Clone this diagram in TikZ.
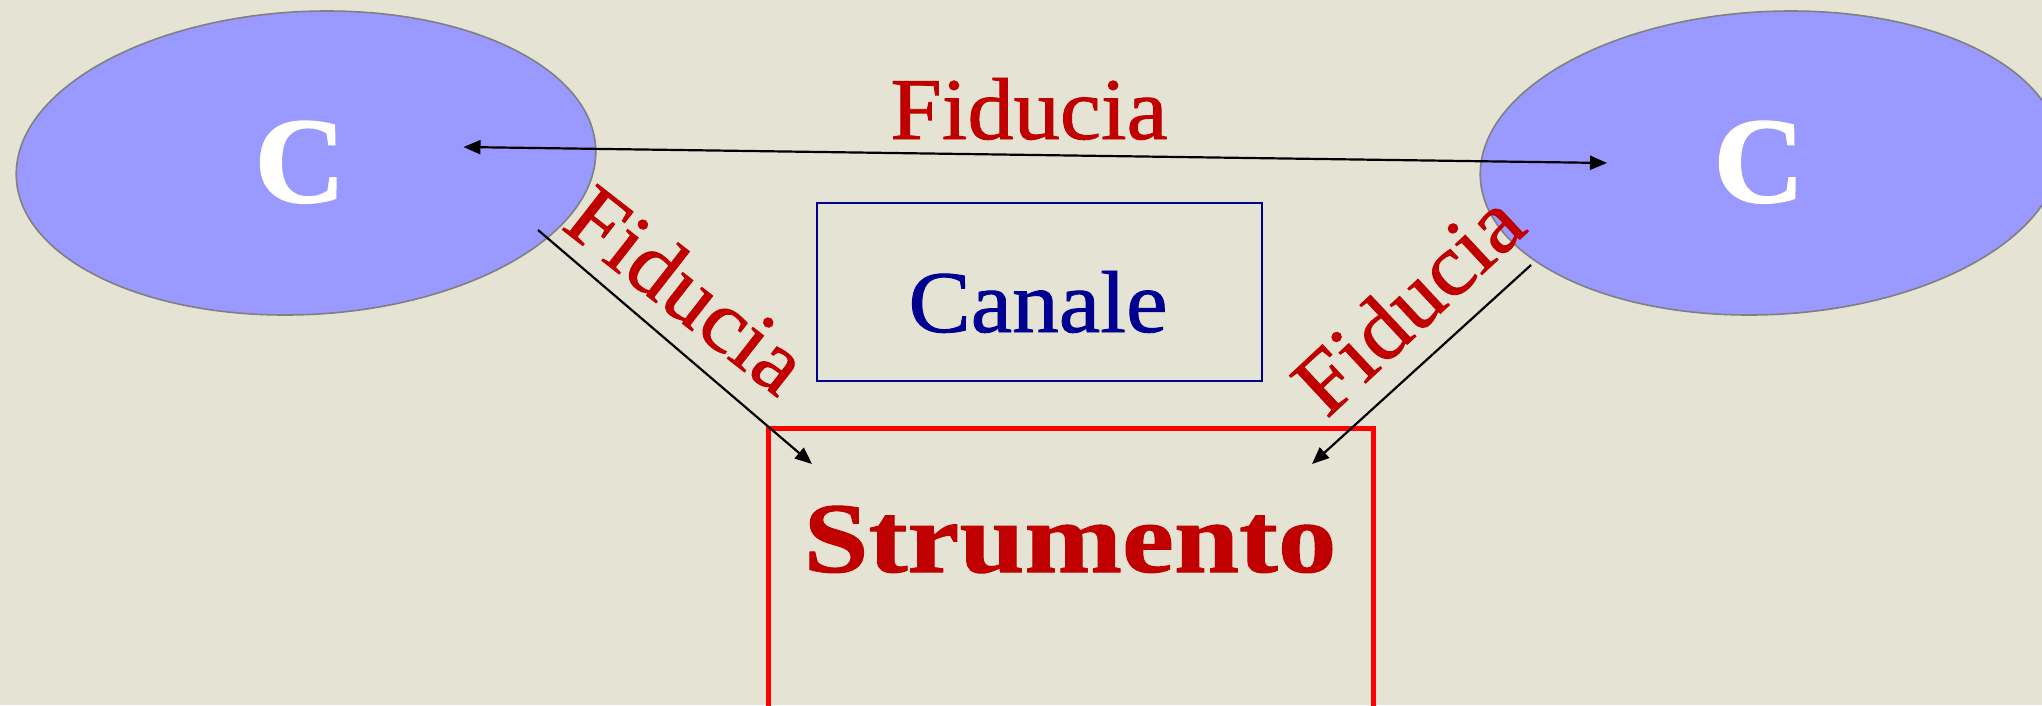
\documentclass[tikz,border=0pt]{standalone}
\usepackage{fontspec}
\setmainfont{Liberation Serif}
\newfontfamily\fidfont[FakeStretch=1.05,FakeBold=1]{Liberation Serif}
\newfontfamily\strfont[FakeStretch=1.17,BoldFeatures={FakeStretch=1.17,FakeBold=1}]{Liberation Serif}
\newfontfamily\canfont[FakeStretch=1.06,FakeBold=1]{Liberation Serif}
\newfontfamily\cfont[FakeStretch=1.03,BoldFeatures={FakeStretch=1.03,FakeBold=1.5}]{Liberation Serif}
\usetikzlibrary{shapes.geometric,arrows.meta}
\definecolor{bgpaper}{HTML}{E4E3D4}
\definecolor{ellfill}{HTML}{9999FF}
\definecolor{ellline}{HTML}{808080}
\definecolor{txtred}{HTML}{C00000}
\definecolor{txtblue}{HTML}{000090}
\tikzset{
  x=1pt,y=-1pt,
  blob/.style={ellipse,draw=ellline,fill=ellfill,line width=1.6pt,minimum width=578pt,minimum height=304pt,inner sep=0pt,transform shape},
  cletter/.style={text=white,inner sep=0pt,font=\cfont\bfseries\fontsize{122}{122}\selectfont,anchor=base},
  fidlabel/.style={text=txtred,inner sep=0pt,font=\fidfont\fontsize{88}{88}\selectfont,anchor=base},
  canalebox/.style={draw=txtblue,line width=1.5pt,minimum width=445pt,minimum height=178pt,inner sep=0pt},
  canaletext/.style={text=txtblue,inner sep=0pt,font=\canfont\fontsize{88}{88}\selectfont,anchor=base},
  strumbox/.style={draw=red,line width=5pt,minimum width=605pt,minimum height=400pt,inner sep=0pt},
  strumtext/.style={text=txtred,inner sep=0pt,font=\strfont\bfseries\fontsize{100}{100}\selectfont,anchor=base},
  link/.style={draw=black,line width=2.2pt},
  tip/.style={-{Triangle[length=17pt,width=14pt]}},
  tips/.style={{Triangle[length=17pt,width=14pt]}-{Triangle[length=17pt,width=14pt]}}
}
\begin{document}
\begin{tikzpicture}
\path[use as bounding box,clip] (0,0) rectangle (2042,705);
\fill[bgpaper] (0,0) rectangle (2042,705);
\begin{scope}[shift={(306,163)},xslant=0.138]
  \node[blob] (left) at (0,0) {};
\end{scope}
\begin{scope}[shift={(1770,163)},xslant=0.138]
  \node[blob] (right) at (0,0) {};
\end{scope}
\node[cletter] (cl) at (300,202) {C};
\node[cletter] (cr) at (1759,202) {C};
\node[canalebox] (canale) at (1039.5,292) {};
\node[canaletext] (canaletxt) at (1038,332) {Canale};
\node[strumbox] (strum) at (1070.5,628) {};
\node[strumtext] (strumtxt) at (1070,572) {Strumento};
\node[fidlabel] (ftop) at (1029,139) {Fiducia};
\node[fidlabel,rotate=-38] (fl) at (669,313) {Fiducia};
\node[fidlabel,rotate=43] (fr) at (1428,325) {Fiducia};
\coordinate (al) at (463.5,147);
\coordinate (ar) at (1607,163);
\coordinate (dl1) at (538,230);
\coordinate (dl2) at (812,464);
\coordinate (dr1) at (1531,265);
\coordinate (dr2) at (1312,464);
\draw[link,tips] (al) -- (ar);
\draw[link,tip] (dl1) -- (dl2);
\draw[link,tip] (dr1) -- (dr2);
\end{tikzpicture}
\end{document}
